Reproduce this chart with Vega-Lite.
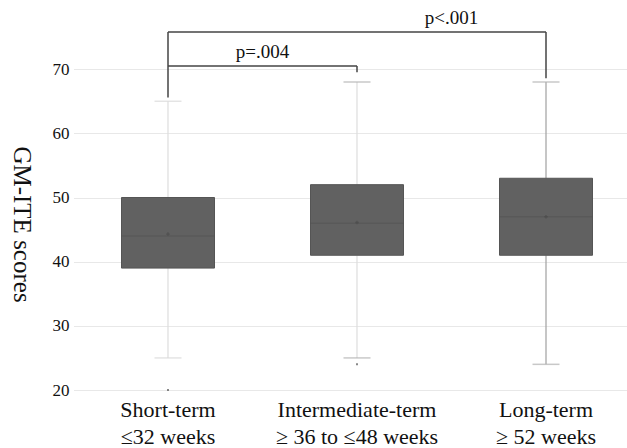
{
  "$schema": "https://vega.github.io/schema/vega-lite/v6.json",
  "width": 552,
  "height": 385,
  "autosize": {"type": "none"},
  "padding": {"left": 75, "top": 5, "right": 0, "bottom": 58},
  "background": "white",
  "config": {
    "view": {"stroke": null},
    "font": "Liberation Serif"
  },
  "datasets": {
    "stats": [
      {"group": "Short-term", "min": 25, "q1": 39, "median": 44, "q3": 50, "max": 65, "mean": 44.3},
      {"group": "Intermediate-term", "min": 25, "q1": 41, "median": 46, "q3": 52, "max": 68, "mean": 46.1},
      {"group": "Long-term", "min": 24, "q1": 41, "median": 47, "q3": 53, "max": 68, "mean": 47.0}
    ],
    "outliers": [
      {"group": "Short-term", "value": 20},
      {"group": "Intermediate-term", "value": 24}
    ],
    "vbrackets": [
      {"group": "Short-term", "y": 75.8, "y2": 65.6},
      {"group": "Long-term", "y": 75.8, "y2": 68.6},
      {"group": "Intermediate-term", "y": 70.5, "y2": 69.5}
    ],
    "hbrackets": [
      {"from": "Short-term", "to": "Long-term", "y": 75.8},
      {"from": "Short-term", "to": "Intermediate-term", "y": 70.5}
    ],
    "labels": [
      {"group": "Intermediate-term", "y": 77.9, "text": "p<.001", "shift": -7},
      {"group": "Intermediate-term", "y": 72.6, "text": "p=.004", "shift": -97}
    ]
  },
  "encoding": {
    "x": {
      "field": "group",
      "type": "nominal",
      "sort": ["Short-term", "Intermediate-term", "Long-term"],
      "scale": {"domain": ["Short-term", "Intermediate-term", "Long-term"], "range": [-1.5, 565.5], "paddingInner": 0, "paddingOuter": 0},
      "axis": {
        "title": null,
        "domain": false,
        "ticks": false,
        "grid": false,
        "labelAngle": 0,
        "labelFont": "Liberation Serif",
        "labelFontSize": 22,
        "labelColor": "#111",
        "labelPadding": 9,
        "labelLineHeight": 27,
        "labelExpr": "datum.value == 'Short-term' ? ['Short-term', '≤32 weeks'] : datum.value == 'Intermediate-term' ? ['Intermediate-term', '≥ 36 to ≤48 weeks'] : ['Long-term', '≥ 52 weeks']"
      }
    }
  },
  "layer": [
    {
      "data": {"name": "stats"},
      "mark": {"type": "rule", "strokeWidth": 1.2},
      "encoding": {
        "y": {
          "field": "min",
          "type": "quantitative",
          "scale": {"domain": [20, 80], "nice": false, "zero": false},
          "axis": {
            "title": "GM-ITE scores",
            "titleFont": "Liberation Serif",
            "titleFontSize": 25,
            "titleFontWeight": "normal",
            "titleColor": "#111",
            "titleAngle": 90,
            "titleAlign": "center",
            "titleBaseline": "middle",
            "titleX": -54,
            "titleY": 219,
            "values": [20, 30, 40, 50, 60, 70],
            "labelFont": "Liberation Serif",
            "labelFontSize": 17,
            "labelColor": "#111",
            "labelPadding": 6,
            "ticks": false,
            "domain": false,
            "grid": true,
            "gridColor": "#e8e8e8",
            "gridWidth": 1.2
          }
        },
        "y2": {"field": "q1"},
        "color": {"condition": {"test": "datum.group == 'Long-term'", "value": "#a0a0a0"}, "value": "#dddddd"}
      }
    },
    {
      "data": {"name": "stats"},
      "mark": {"type": "rule", "strokeWidth": 1.2},
      "encoding": {
        "y": {"field": "q3", "type": "quantitative"},
        "y2": {"field": "max"},
        "color": {"condition": {"test": "datum.group == 'Long-term'", "value": "#a0a0a0"}, "value": "#dddddd"}
      }
    },
    {
      "data": {"name": "stats"},
      "mark": {"type": "tick", "size": 27, "thickness": 1.5, "orient": "horizontal"},
      "encoding": {
        "y": {"field": "min", "type": "quantitative"},
        "color": {"condition": {"test": "datum.group == 'Short-term'", "value": "#d8d8d8"}, "value": "#b0b0b0"}
      }
    },
    {
      "data": {"name": "stats"},
      "mark": {"type": "tick", "size": 27, "thickness": 1.5, "orient": "horizontal"},
      "encoding": {
        "y": {"field": "max", "type": "quantitative"},
        "color": {"condition": {"test": "datum.group == 'Short-term'", "value": "#d8d8d8"}, "value": "#b0b0b0"}
      }
    },
    {
      "data": {"name": "stats"},
      "mark": {"type": "bar", "size": 93, "fill": "#616161", "stroke": "#555555", "strokeWidth": 1},
      "encoding": {
        "y": {"field": "q1", "type": "quantitative"},
        "y2": {"field": "q3"}
      }
    },
    {
      "data": {"name": "stats"},
      "mark": {"type": "tick", "size": 93, "thickness": 1, "color": "#525252", "orient": "horizontal"},
      "encoding": {
        "y": {"field": "median", "type": "quantitative"}
      }
    },
    {
      "data": {"name": "stats"},
      "mark": {"type": "point", "shape": "cross", "size": 12, "filled": true, "color": "#4a4a4a"},
      "encoding": {
        "y": {"field": "mean", "type": "quantitative"}
      }
    },
    {
      "data": {"name": "outliers"},
      "mark": {"type": "point", "shape": "square", "size": 4, "filled": true, "color": "#555555"},
      "encoding": {
        "y": {"field": "value", "type": "quantitative"}
      }
    },
    {
      "data": {"name": "vbrackets"},
      "mark": {"type": "rule", "strokeWidth": 1.5, "color": "#444444"},
      "encoding": {
        "y": {"field": "y", "type": "quantitative"},
        "y2": {"field": "y2"}
      }
    },
    {
      "data": {"name": "hbrackets"},
      "mark": {"type": "rule", "strokeWidth": 1.5, "color": "#444444"},
      "encoding": {
        "x": {"field": "from", "type": "nominal"},
        "x2": {"field": "to"},
        "y": {"field": "y", "type": "quantitative"}
      }
    },
    {
      "data": {"name": "labels"},
      "mark": {"type": "text", "font": "Liberation Serif", "fontSize": 19, "color": "#111", "baseline": "middle", "align": "center"},
      "encoding": {
        "y": {"field": "y", "type": "quantitative"},
        "text": {"field": "text"},
        "xOffset": {"field": "shift", "type": "quantitative", "scale": {"type": "identity"}}
      }
    }
  ]
}
